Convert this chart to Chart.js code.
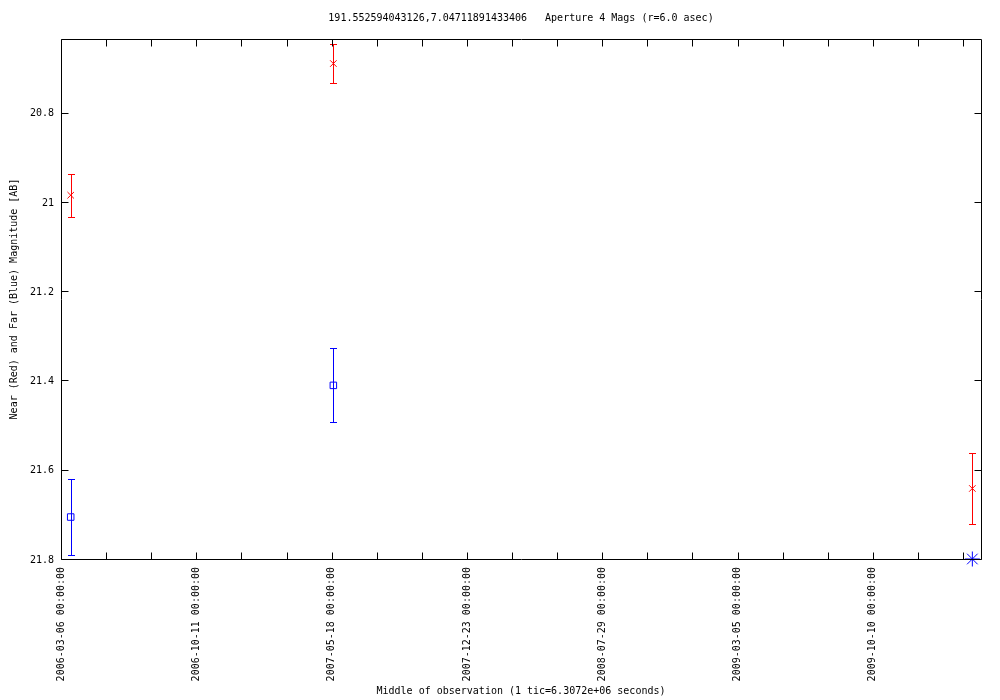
<!DOCTYPE html>
<html>
<head>
<meta charset="utf-8">
<title>Aperture 4 Mags</title>
<script src="https://cdn.jsdelivr.net/npm/chart.js@4/dist/chart.umd.min.js"></script>
<style>
  html, body { margin: 0; padding: 0; background: #fff; }
  canvas { display: block; }
</style>
</head>
<body>
<canvas id="magChart" width="1000" height="700"></canvas>
<script>
// observation data
var axisStart = '2006-03-06T00:00:00Z';
var obsDates = ['2006-03-21T17:00:00Z', '2007-05-20T19:00:00Z', '2010-03-20T00:00:00Z'];
var nearMag = [20.985, 20.690, 21.642];
var nearErr = [0.048, 0.044, 0.080];
var farMag = [21.706, 21.411, null];
var farErr = [0.086, 0.083, null];
var farLimit = [null, null, 21.8];

var titleText = '191.552594043126,7.04711891433406   Aperture 4 Mags (r=6.0 asec)';
var xTitle = 'Middle of observation (1 tic=6.3072e+06 seconds)';
var yTitle = 'Near (Red) and Far (Blue) Magnitude [AB]';

var xMinDays = 0, xMaxDays = 1489, tickDays = 73, labelEvery = 219;
var yMin = 20.635, yMax = 21.8;

var DAY = 86400000;
var t0 = Date.parse(axisStart);

function toDays(s) {
  return (Date.parse(s) - t0) / DAY;
}

function pad(n) { return n < 10 ? '0' + n : '' + n; }

function dayLabel(d) {
  var dt = new Date(t0 + d * DAY);
  return dt.getUTCFullYear() + '-' + pad(dt.getUTCMonth() + 1) + '-' + pad(dt.getUTCDate()) + ' 00:00:00';
}

function points(mags) {
  var out = [];
  for (var i = 0; i < obsDates.length; i++) {
    if (mags[i] !== null) out.push({ x: toDays(obsDates[i]), y: mags[i] });
  }
  return out;
}

var FONT = '"DejaVu Sans Mono", "Liberation Mono", monospace';

// gnuplot-ish frame, inward ticks on all sides, error bars and labels
var gnuplotLook = {
  id: 'gnuplotLook',
  beforeDatasetsDraw: function(chart) {
    var ctx = chart.ctx;
    var xs = chart.scales.x, ys = chart.scales.y;
    var bars = [
      { mags: nearMag, errs: nearErr, color: '#ff0000' },
      { mags: farMag, errs: farErr, color: '#0000ff' }
    ];
    ctx.save();
    ctx.lineWidth = 1;
    bars.forEach(function(b) {
      ctx.strokeStyle = b.color;
      for (var i = 0; i < obsDates.length; i++) {
        if (b.mags[i] === null) continue;
        var px = Math.round(xs.getPixelForValue(toDays(obsDates[i]))) + 0.5;
        var yTop = Math.round(ys.getPixelForValue(b.mags[i] - b.errs[i])) + 0.5;
        var yBot = Math.round(ys.getPixelForValue(b.mags[i] + b.errs[i])) + 0.5;
        ctx.beginPath();
        ctx.moveTo(px, yTop); ctx.lineTo(px, yBot);
        ctx.moveTo(px - 3.5, yTop); ctx.lineTo(px + 3.5, yTop);
        ctx.moveTo(px - 3.5, yBot); ctx.lineTo(px + 3.5, yBot);
        ctx.stroke();
      }
    });
    ctx.restore();
  },
  afterDraw: function(chart) {
    var ctx = chart.ctx;
    var a = chart.chartArea;
    var xs = chart.scales.x, ys = chart.scales.y;
    var L = Math.round(a.left) + 0.5, R = Math.round(a.right) + 0.5;
    var T = Math.round(a.top) + 0.5, B = Math.round(a.bottom) + 0.5;
    ctx.save();
    ctx.strokeStyle = '#000';
    ctx.lineWidth = 1;
    ctx.beginPath();
    ctx.rect(L, T, R - L, B - T);
    xs.ticks.forEach(function(t) {
      var px = Math.round(xs.getPixelForValue(t.value)) + 0.5;
      ctx.moveTo(px, B); ctx.lineTo(px, B - 7);
      ctx.moveTo(px, T); ctx.lineTo(px, T + 7);
    });
    ys.ticks.forEach(function(t) {
      var py = Math.round(ys.getPixelForValue(t.value)) + 0.5;
      ctx.moveTo(L, py); ctx.lineTo(L + 7, py);
      ctx.moveTo(R, py); ctx.lineTo(R - 7, py);
    });
    ctx.stroke();

    ctx.fillStyle = '#000';
    ctx.font = '10px ' + FONT;
    ctx.textAlign = 'center';
    ctx.textBaseline = 'middle';
    var cx = (a.left + a.right) / 2;
    ctx.fillText(titleText, cx, 18);
    ctx.fillText(xTitle, cx, 691);
    ctx.translate(14, (a.top + a.bottom) / 2);
    ctx.rotate(-Math.PI / 2);
    ctx.fillText(yTitle, 0, 0);
    ctx.restore();
  }
};

var ctxMag = document.getElementById('magChart').getContext('2d');

var magChart = new Chart(ctxMag, {
  type: 'scatter',
  data: {
    datasets: [
      {
        label: 'Near',
        data: points(nearMag),
        pointStyle: 'crossRot',
        radius: 4.6,
        borderColor: '#ff0000',
        backgroundColor: 'rgba(0,0,0,0)',
        borderWidth: 1
      },
      {
        label: 'Far',
        data: points(farMag),
        pointStyle: 'rect',
        radius: 4.6,
        borderColor: '#0000ff',
        backgroundColor: 'rgba(0,0,0,0)',
        borderWidth: 1
      },
      {
        label: 'Far limit',
        data: points(farLimit),
        pointStyle: 'star',
        radius: 7.5,
        borderColor: '#0000ff',
        backgroundColor: 'rgba(0,0,0,0)',
        borderWidth: 1,
        clip: 10
      }
    ]
  },
  options: {
    responsive: false,
    animation: false,
    devicePixelRatio: 1,
    layout: { padding: { top: 39, right: 19, left: 0, bottom: 0 } },
    plugins: {
      legend: { display: false },
      tooltip: { enabled: false }
    },
    scales: {
      x: {
        type: 'linear',
        min: xMinDays,
        max: xMaxDays,
        grid: { display: false, drawTicks: false },
        border: { display: false },
        ticks: {
          stepSize: tickDays,
          includeBounds: false,
          autoSkip: false,
          minRotation: 90,
          maxRotation: 90,
          padding: 8,
          color: '#000',
          font: { family: FONT, size: 10 },
          callback: function(v) {
            var d = Math.round(v);
            return d % labelEvery === 0 ? dayLabel(d) : '';
          }
        },
        afterFit: function(scale) { scale.height = 141; }
      },
      y: {
        type: 'linear',
        reverse: true,
        min: yMin,
        max: yMax,
        grid: { display: false, drawTicks: false },
        border: { display: false },
        ticks: {
          stepSize: 0.2,
          includeBounds: false,
          padding: 7,
          labelOffset: 1,
          color: '#000',
          font: { family: FONT, size: 10 },
          callback: function(v) {
            return String(Math.round(v * 10) / 10);
          }
        },
        afterFit: function(scale) { scale.width = 61; }
      }
    }
  },
  plugins: [gnuplotLook]
});
</script>
</body>
</html>
